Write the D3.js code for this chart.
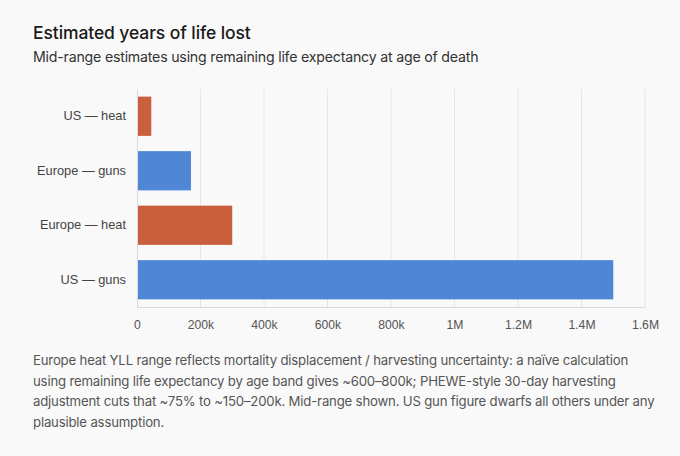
<!DOCTYPE html>
<html>
<head>
<meta charset="utf-8">
<script src="https://cdn.jsdelivr.net/npm/d3@7"></script>
<style>
  body { margin: 0; background: #f9f9f9; }
  svg { display: block; }
</style>
</head>
<body>
<svg id="chart" width="680" height="456"></svg>
<script>
// data
var categories = ["US — heat", "Europe — guns", "Europe — heat", "US — guns"];
var yll = [45000, 170000, 300000, 1500000];
var kinds = ["heat", "guns", "heat", "guns"];
var xTicks = [0, 200000, 400000, 600000, 800000, 1000000, 1200000, 1400000, 1600000];
var tickLabels = ["0", "200k", "400k", "600k", "800k", "1M", "1.2M", "1.4M", "1.6M"];
var colors = { heat: "#c95f3c", guns: "#4f86d6" };

var title = "Estimated years of life lost";
var subtitle = "Mid-range estimates using remaining life expectancy at age of death";
var note = [
    "Europe heat YLL range reflects mortality displacement / harvesting uncertainty: a naïve calculation",
    "using remaining life expectancy by age band gives ~600–800k; PHEWE-style 30-day harvesting",
    "adjustment cuts that ~75% to ~150–200k. Mid-range shown. US gun figure dwarfs all others under any",
    "plausible assumption."
];

var svg = d3.select("#chart");
var headFont = "Inter, 'Open Sans', sans-serif";
var axisFont = "'Liberation Sans', Arial, sans-serif";

svg.append("text")
    .attr("x", 33).attr("y", 39)
    .attr("font-family", headFont)
    .attr("font-size", 17.5)
    .attr("font-weight", 500)
    .attr("letter-spacing", -0.1)
    .attr("fill", "#1a1a1a")
    .text(title);

svg.append("text")
    .attr("x", 33).attr("y", 62)
    .attr("font-family", headFont)
    .attr("font-size", 14.2)
    .attr("letter-spacing", -0.22)
    .attr("fill", "#333")
    .text(subtitle);

var x = d3.scaleLinear().domain([0, 1600000]).range([137, 645]);
var y = d3.scaleBand().domain(categories).range([89, 307])
    .paddingInner(0.28).paddingOuter(0.14);

// grid lines
svg.append("g").selectAll("line")
    .data(xTicks.slice(1))
    .enter().append("line")
    .attr("x1", function (d) { return x(d); })
    .attr("x2", function (d) { return x(d); })
    .attr("y1", 89).attr("y2", 307)
    .attr("stroke", "#e6e6e6");

// bars
svg.append("g").selectAll("rect")
    .data(categories)
    .enter().append("rect")
    .attr("x", x(0) + 1)
    .attr("y", function (d) { return y(d); })
    .attr("width", function (d, i) { return x(yll[i]) - x(0) - 1; })
    .attr("height", y.bandwidth())
    .attr("fill", function (d, i) { return colors[kinds[i]]; });

// x axis
var xAxis = d3.axisBottom(x)
    .tickValues(xTicks)
    .tickFormat(function (d, i) { return tickLabels[i]; })
    .tickSize(0).tickPadding(13);
var gx = svg.append("g").attr("transform", "translate(0,307)").call(xAxis);
gx.select(".domain").attr("stroke", "#d9d9d9");
gx.selectAll("text").attr("font-family", axisFont).attr("font-size", 12.2).attr("fill", "#555");

// y axis
var yAxis = d3.axisLeft(y).tickSize(0).tickPadding(11);
var gy = svg.append("g").attr("transform", "translate(137,0)").call(yAxis);
gy.select(".domain").attr("stroke", "#d9d9d9");
gy.selectAll("text").attr("font-family", axisFont).attr("font-size", 12.8).attr("fill", "#444");

// footnote
svg.append("g").selectAll("text")
    .data(note)
    .enter().append("text")
    .attr("x", 33)
    .attr("y", function (d, i) { return 365 + i * 20.7; })
    .attr("font-family", headFont)
    .attr("font-size", 13.2)
    .attr("letter-spacing", -0.19)
    .attr("fill", "#555")
    .text(function (d) { return d; });
</script>
</body>
</html>
